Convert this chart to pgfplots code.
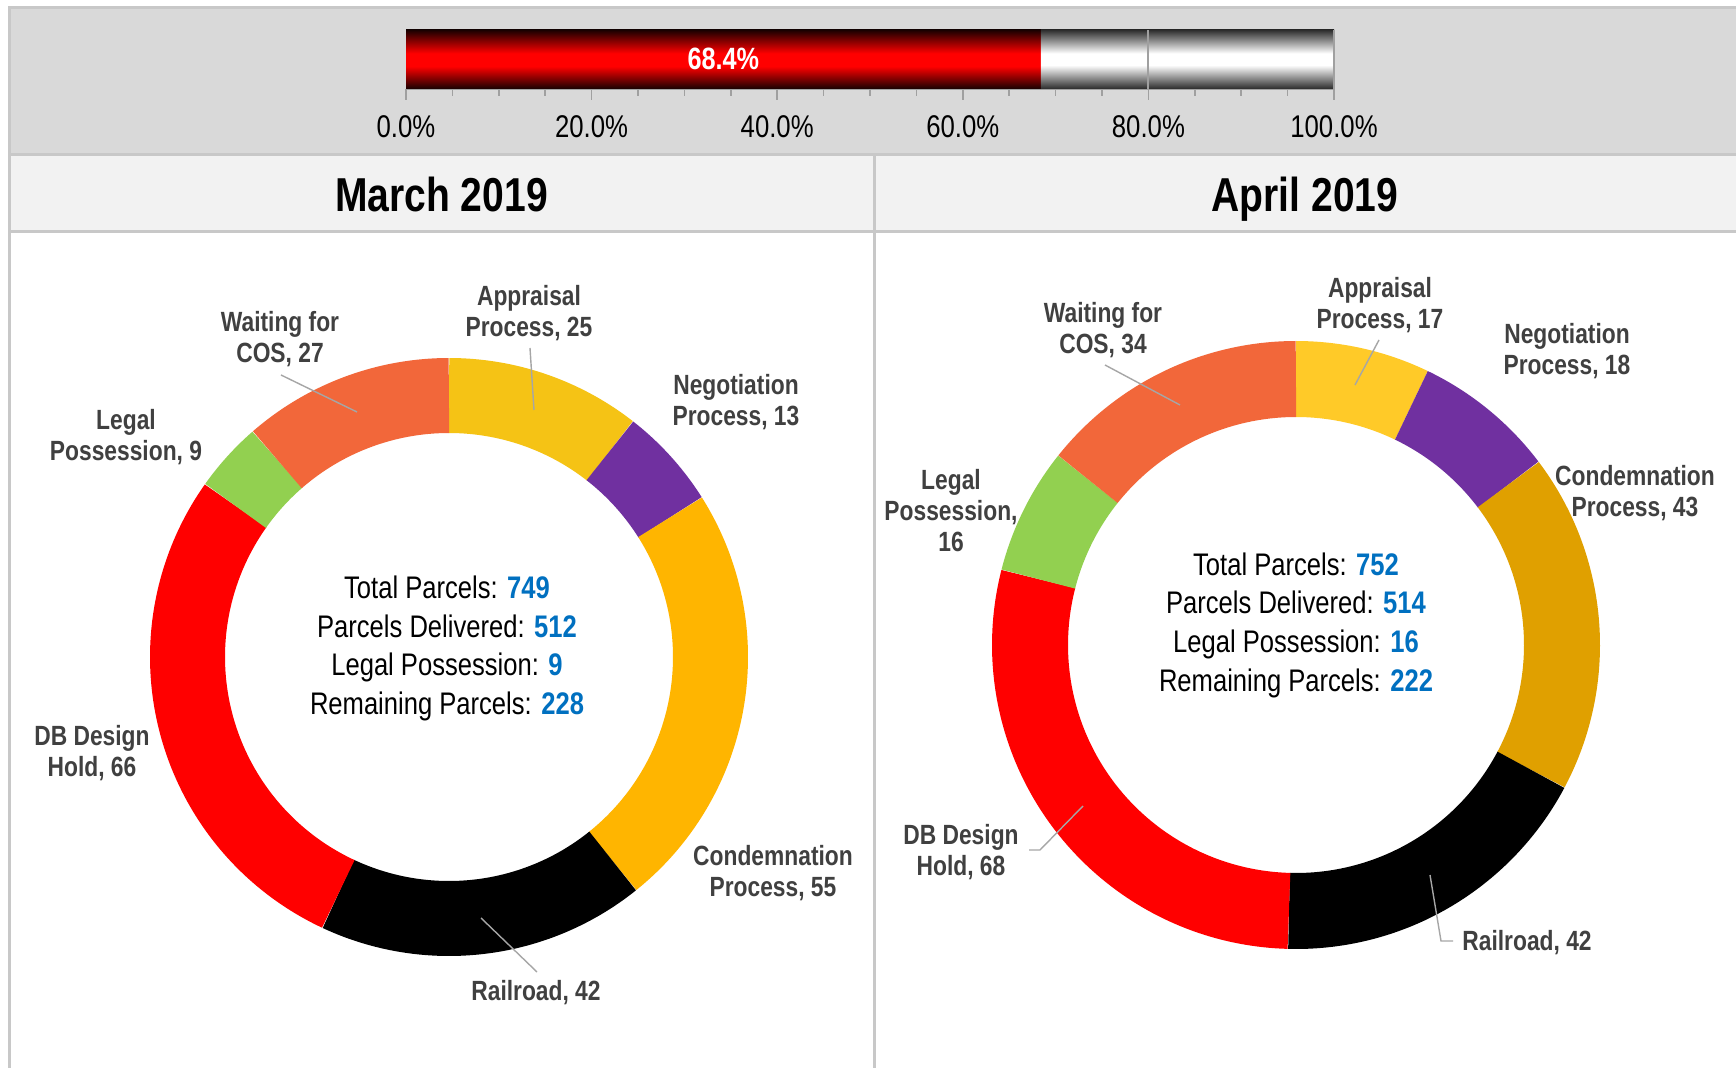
\documentclass[border=0pt]{standalone}
\usepackage{fontspec}
\IfFontExistsTF{Liberation Sans Narrow}{\setmainfont{Liberation Sans Narrow}}{\setmainfont{Liberation Sans}[FakeStretch=0.82]}
\usepackage{pgfplots}
\pgfplotsset{compat=1.18}

\definecolor{bandgray}{HTML}{D9D9D9}
\definecolor{bordergray}{HTML}{C8C8C8}
\definecolor{headgray}{HTML}{F2F2F2}
\definecolor{labgray}{HTML}{404040}
\definecolor{leadgray}{HTML}{A6A6A6}
\definecolor{tickgray}{HTML}{A0A0A0}
\definecolor{numblue}{HTML}{0070C0}
\definecolor{appM}{HTML}{F5C315}
\definecolor{appA}{HTML}{FFCA28}
\definecolor{neg}{HTML}{7030A0}
\definecolor{condM}{HTML}{FFB500}
\definecolor{condA}{HTML}{E0A000}
\definecolor{dbred}{HTML}{FF0000}
\definecolor{legal}{HTML}{92D050}
\definecolor{wait}{HTML}{F2673A}
\definecolor{darkbar}{HTML}{1A0000}
\definecolor{darkgraybar}{HTML}{2E2E2E}

\pgfdeclareverticalshading{redbar}{100bp}{color(0bp)=(darkbar); color(25bp)=(darkbar); color(44bp)=(red); color(55bp)=(red); color(75bp)=(darkbar); color(100bp)=(darkbar)}
\pgfdeclareverticalshading{whitebar}{100bp}{color(0bp)=(darkgraybar); color(25bp)=(darkgraybar); color(45bp)=(white); color(55bp)=(white); color(75bp)=(darkgraybar); color(100bp)=(darkgraybar)}

\newcommand\donut[3]{%
  \def\tot{0}%
  \pgfplotsforeachungrouped \v/\c in {#3}{\pgfmathsetmacro\tot{\tot+\v}}%
  \def\ang{90}%
  \pgfplotsforeachungrouped \v/\c in {#3}{%
    \pgfmathsetmacro\newang{\ang-\v/\tot*360}%
    \edef\cmd{\noexpand\addplot[line width=#2, color=\c, domain=\newang:\ang, samples=90] ({#1*cos(x)},{#1*sin(x)});}%
    \cmd
    \let\ang\newang}%
}

\newcommand\labfont{\fontsize{13.9}{15.5}\selectfont\bfseries\color{labgray}}
\newcommand\cenfont{\fontsize{15.6}{18}\selectfont}

\begin{document}
\begin{tikzpicture}[x=0.5pt,y=-0.5pt]
\useasboundingbox (0,0) rectangle (1736,1068);
\fill[white] (0,0) rectangle (1736,1068);
% backgrounds
\fill[bandgray] (9,6) rectangle (1736,154);
\fill[bordergray] (9,6) rectangle (1736,9);
\fill[bordergray] (9,153) rectangle (1736,156);
\fill[headgray] (9,156) rectangle (1736,230);
\fill[bordergray] (9,230) rectangle (1736,233);
\fill[bordergray] (8,6) rectangle (11,1068);
\fill[bordergray] (873,153) rectangle (876,1068);

% progress bar
\begin{axis}[at={(203pt,-44.3pt)}, anchor=south west, scale only axis,
  width=464pt, height=29.3pt, xmin=0, xmax=100, ymin=0, ymax=1,
  axis x line*=bottom, axis y line=none, clip=false,
  xtick={0,20,40,60,80,100},
  xticklabels={0.0\%,20.0\%,40.0\%,60.0\%,80.0\%,100.0\%},
  minor x tick num=3, tick align=outside,
  major tick length=5.5pt, minor tick length=3.5pt,
  tick style={draw=tickgray, line width=0.75pt},
  x axis line style={draw=tickgray, line width=1.2pt},
  xticklabel style={font=\fontsize{15.7}{18}\selectfont, anchor=base, yshift=-19pt},
]
\addplot[draw=none, shade, shading=redbar] coordinates {(0,1) (68.4,1)} \closedcycle;
\addplot[draw=none, shade, shading=whitebar] coordinates {(68.4,1) (100,1)} \closedcycle;
\addplot[tickgray, line width=1pt] coordinates {(80,0) (80,1)};
\addplot[tickgray, line width=1pt] coordinates {(100,0) (100,1)};
\node[white, font=\fontsize{15.4}{18}\selectfont\bfseries] at (axis cs:34.2,0.5) {68.4\%};
\end{axis}

% headers
\node[anchor=base, font=\fontsize{23.8}{28}\selectfont\bfseries] at (441.5,212) {March 2019};
\node[anchor=base, font=\fontsize{23.8}{28}\selectfont\bfseries] at (1305,212) {April 2019};

% March donut
\begin{axis}[at={(224.5pt,-328.5pt)}, anchor=center, scale only axis, width=330pt, height=330pt,
  xmin=-330, xmax=330, ymin=-330, ymax=330, hide axis, clip=false]
\donut{261.5}{37.5pt}{25/appM,13/neg,55/condM,42/black,66/dbred,9/legal,27/wait}
\end{axis}

% April donut
\begin{axis}[at={(648pt,-322.5pt)}, anchor=center, scale only axis, width=330pt, height=330pt,
  xmin=-330, xmax=330, ymin=-330, ymax=330, hide axis, clip=false]
\donut{266}{38pt}{17/appA,18/neg,43/condA,42/black,68/dbred,16/legal,34/wait}
\end{axis}

% leader lines
\begin{scope}[leadgray, line width=0.7pt]
\draw (530,348) -- (534,410);
\draw (281,375) -- (357,412);
\draw (481,918) -- (537,972);
\draw (1105,365) -- (1180,405);
\draw (1379,340) -- (1355,385);
\draw (1083,806) -- (1040,850) -- (1029,850);
\draw (1430,875) -- (1441,941) -- (1453,941);
\end{scope}

% March labels
\node[align=center, font=\labfont] at (529,313) {Appraisal\\Process, 25};
\node[align=center, font=\labfont] at (280,339) {Waiting for\\COS, 27};
\node[align=center, font=\labfont] at (736,402) {Negotiation\\Process, 13};
\node[align=center, font=\labfont] at (126,437) {Legal\\Possession, 9};
\node[align=center, font=\labfont] at (92,753) {DB Design\\Hold, 66};
\node[align=center, font=\labfont] at (773,873) {Condemnation\\Process, 55};
\node[align=center, font=\labfont] at (536,993) {Railroad, 42};

% April labels
\node[align=center, font=\labfont] at (1103,330) {Waiting for\\COS, 34};
\node[align=center, font=\labfont] at (1380,305) {Appraisal\\Process, 17};
\node[align=center, font=\labfont] at (1567,351) {Negotiation\\Process, 18};
\node[align=center, font=\labfont] at (1635,493) {Condemnation\\Process, 43};
\node[align=center, font=\labfont] at (951,511) {Legal\\Possession,\\16};
\node[align=center, font=\labfont] at (961,852) {DB Design\\Hold, 68};
\node[align=center, font=\labfont] at (1527,943) {Railroad, 42};

% center texts March
\node[anchor=base, font=\cenfont] at (447,598.5) {Total Parcels: \textcolor{numblue}{\bfseries 749}};
\node[anchor=base, font=\cenfont] at (447,637.5) {Parcels Delivered: \textcolor{numblue}{\bfseries 512}};
\node[anchor=base, font=\cenfont] at (447,675.5) {Legal Possession: \textcolor{numblue}{\bfseries 9}};
\node[anchor=base, font=\cenfont] at (447,714.5) {Remaining Parcels: \textcolor{numblue}{\bfseries 228}};
% center texts April
\node[anchor=base, font=\cenfont] at (1296,575.5) {Total Parcels: \textcolor{numblue}{\bfseries 752}};
\node[anchor=base, font=\cenfont] at (1296,613.5) {Parcels Delivered: \textcolor{numblue}{\bfseries 514}};
\node[anchor=base, font=\cenfont] at (1296,652.5) {Legal Possession: \textcolor{numblue}{\bfseries 16}};
\node[anchor=base, font=\cenfont] at (1296,691.5) {Remaining Parcels: \textcolor{numblue}{\bfseries 222}};
\end{tikzpicture}
\end{document}
